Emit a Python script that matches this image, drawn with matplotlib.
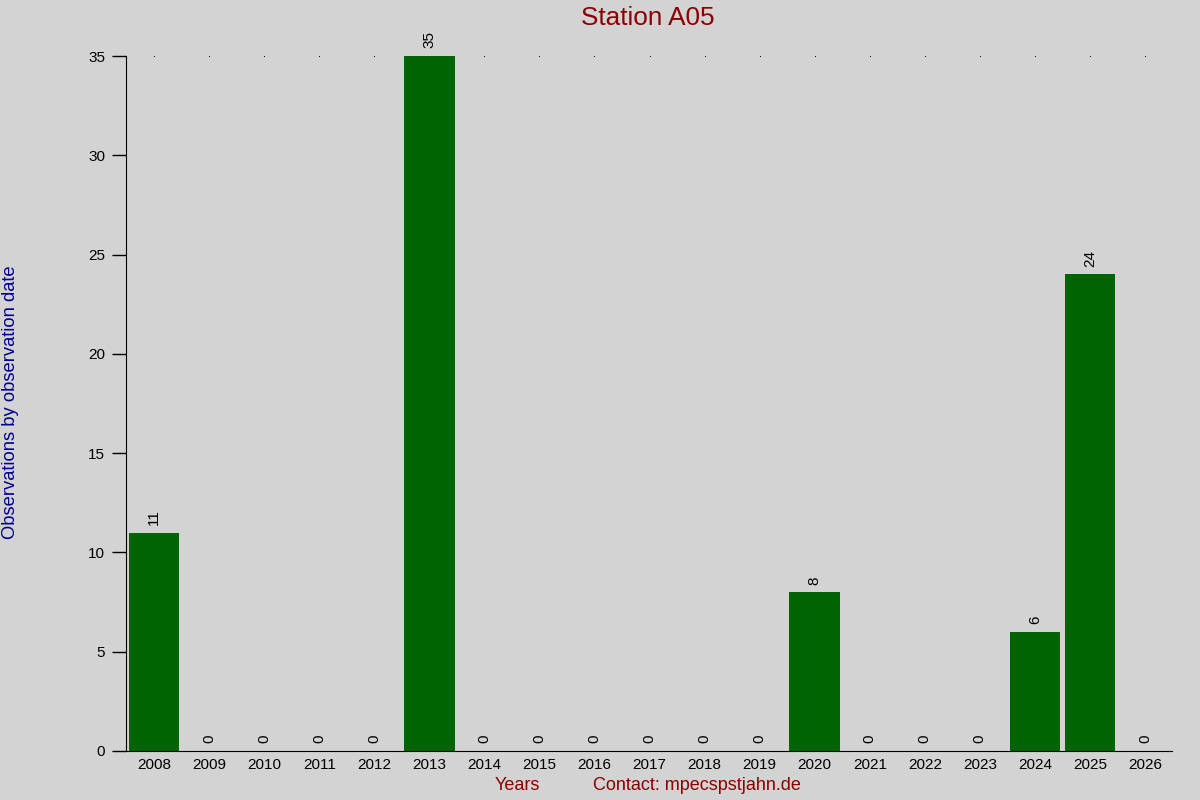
import numpy as np
import matplotlib
matplotlib.use('Agg')
import matplotlib.pyplot as plt

plt.rcParams['font.family'] = ['Liberation Sans', 'DejaVu Sans']

# 연도별 관측 수
years = ['2008', '2009', '2010', '2011', '2012', '2013', '2014', '2015', '2016', '2017',
         '2018', '2019', '2020', '2021', '2022', '2023', '2024', '2025', '2026']
counts = [11, 0, 0, 0, 0, 35, 0, 0, 0, 0, 0, 0, 8, 0, 0, 0, 6, 24, 0]
y_ticks = [0, 5, 10, 15, 20, 25, 30, 35]

title = 'Station A05'
x_label = 'Years'
contact = 'Contact: mpecspstjahn.de'
y_label = 'Observations by observation date'

bg = '#d3d3d3'
bar_color = '#006400'
red = '#8b0000'
blue = '#00008b'

fig = plt.figure(figsize=(12, 8), dpi=100, facecolor=bg)
ax = fig.add_axes([126 / 1200, 1 - 751 / 800, (1172 - 126) / 1200, (751 - 56) / 800])
ax.set_facecolor(bg)

x = np.arange(len(years))

# 상단의 작은 점들
ax.plot(x, [max(y_ticks)] * len(x), linestyle='none', marker='s', markersize=0.6,
        markeredgewidth=0, color='black', zorder=1)

ax.bar(x, counts, width=0.92, color=bar_color, zorder=2)

for xi, c in zip(x, counts):
    ax.annotate(str(c), (xi, c), xytext=(0, 5.5), textcoords='offset points',
                rotation=90, ha='center', va='bottom', fontsize=11, color='black')

ax.set_xlim(-0.51, len(years) - 0.51)
ax.set_ylim(0, max(y_ticks))
ax.set_xticks(x)
ax.set_xticklabels(years)
ax.set_yticks(y_ticks)

ax.spines['top'].set_visible(False)
ax.spines['right'].set_visible(False)
ax.tick_params(axis='x', length=0, pad=5, labelsize=11)
ax.tick_params(axis='y', length=10, width=1, pad=5, labelsize=11)

fig.text(648 / 1200, 1 - 18 / 800, title, color=red, fontsize=18.8,
         ha='center', va='center')
fig.text(517 / 1200, 1 - 786 / 800, x_label, color=red, fontsize=13,
         ha='center', va='center')
fig.text(697 / 1200, 1 - 786 / 800, contact, color=red, fontsize=13,
         ha='center', va='center')
fig.text(11 / 1200, 1 - 402 / 800, y_label, color=blue, fontsize=13.2,
         rotation=90, ha='center', va='center')

plt.savefig('out.png', dpi=100, facecolor=bg)
